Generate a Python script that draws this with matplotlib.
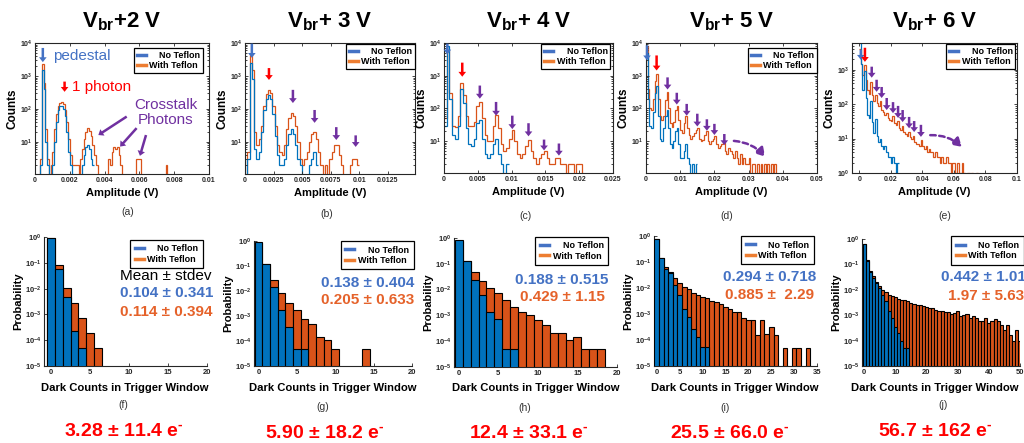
#!/usr/bin/env python
"""Dark count spectra with and without Teflon, Vbr+2 V to Vbr+6 V."""

import numpy as np
import matplotlib
matplotlib.use('Agg')
import matplotlib.pyplot as plt
from matplotlib.lines import Line2D
from matplotlib.ticker import (FuncFormatter, LogLocator, MultipleLocator,
                               NullFormatter, NullLocator)

# overvoltage of each column
overvoltages = ['+2 V', '+ 3 V', '+ 4 V', '+ 5 V', '+ 6 V']
panel_letters = ['a', 'b', 'c', 'd', 'e', 'f', 'g', 'h', 'i', 'j']

# amplitude histograms (counts per bin, first bin starts at 0 V)
amp_bins = [0.0001, 0.0002, 0.0004, 0.0005, 0.001]
a_bare = [0, 0, 0, 2, 1500, 400, 10, 2, 0, 0,
          2, 10, 40, 90, 120, 120, 100, 60, 20, 5,
          2, 0, 0, 0, 0, 0, 0, 2, 4, 7,
          8, 6, 3, 2]
a_with = [0, 0, 0, 3, 2300, 600, 25, 3, 0, 2,
          5, 25, 70, 120, 150, 160, 140, 90, 40, 12,
          4, 2, 2, 2, 2, 0, 3, 6, 12, 20,
          26, 22, 15, 8, 4, 2, 0, 0, 0, 0,
          0, 0, 3, 2, 5, 7, 6, 7, 4, 2,
          0, 0, 0, 0, 0, 0, 0, 0, 3, 3,
          3, 0, 0, 0, 0, 0, 0, 0, 0, 0,
          0, 0, 0, 0, 0, 2, 0]
b_bare = [0, 3, 2500, 800, 6, 3, 5, 20, 90, 200,
          260, 200, 70, 15, 4, 2, 2, 3, 8, 18,
          25, 18, 8, 3, 2, 0, 0, 0, 2, 3,
          5, 2]
b_with = [0, 5, 4300, 1500, 20, 8, 12, 30, 120, 280,
          380, 300, 120, 30, 8, 5, 4, 8, 25, 55,
          75, 60, 30, 10, 3, 2, 3, 5, 10, 18,
          20, 12, 5, 2, 0, 2, 0, 3, 5, 8,
          8, 4, 2, 0, 0, 0, 2, 3, 3, 2]
c_bare = [30, 8000, 200, 15, 12, 30, 380, 150, 25, 8,
          7, 12, 35, 45, 12, 4, 3, 4, 8, 12,
          4, 2, 1, 2]
c_with = [50, 6000, 300, 30, 28, 60, 600, 250, 60, 30,
          29, 40, 120, 160, 50, 15, 10, 10, 30, 63,
          25, 8, 5, 6, 12, 22, 10, 4, 3, 4,
          7, 11, 5, 3, 2, 3, 4, 5, 3, 2,
          2, 3, 3, 2, 2, 1, 2, 2, 1, 2,
          2, 1]
d_bare = [5000, 200, 30, 25, 80, 300, 490, 60, 12, 10,
          25, 60, 90, 25, 8, 6, 10, 20, 25, 8,
          3, 3, 5, 8, 3, 2, 1, 2, 1, 2]
d_with = [8000, 400, 100, 90, 200, 700, 1100, 200, 60, 45,
          60, 180, 320, 100, 35, 28, 40, 90, 120, 45,
          22, 18, 35, 57, 25, 15, 12, 14, 18, 22,
          25, 12, 10, 11, 16, 20, 10, 8, 10, 12,
          14, 8, 6, 7, 8, 9, 5, 4, 6, 5,
          4, 3, 5, 3, 2, 4, 2, 3, 2, 2,
          3, 1, 2, 2, 1, 2, 1, 2, 1, 2,
          1, 2, 1, 2, 1, 2, 1]
e_bare = [6000, 1500, 250, 900, 150, 50, 40, 125, 30, 15,
          36, 12, 8, 10, 6, 5, 6, 4, 3, 3,
          2, 3, 2, 1, 2]
e_with = [4000, 1500, 700, 1400, 500, 250, 200, 450, 180, 120,
          180, 110, 90, 120, 70, 60, 50, 55, 40, 35,
          32, 45, 28, 25, 32, 20, 18, 24, 16, 14,
          12, 16, 11, 10, 12, 8, 7, 7, 6, 9,
          6, 5, 6, 4, 5, 4, 4, 3, 4, 3,
          3, 2, 3, 2, 2, 3, 2, 2, 1, 2,
          2, 1, 2, 1, 1, 2, 1, 0, 1, 1,
          0, 1, 0, 0, 1]

# dark count probability per number of counts in the trigger window
f_bare = [0.9, 0.06, 0.0046, 2.3e-4, 5e-5]
f_with = [0.9, 0.08, 0.0102, 0.0028, 7e-4, 1.9e-4, 5e-5]
g_bare = [0.88, 0.117, 0.0145, 0.0018, 3.6e-4, 5e-5, 5e-5]
g_with = [0.85, 0.12, 0.027, 0.0083, 0.0033, 0.0017, 7.4e-4, 4.7e-4,
          1.45e-4, 1.07e-4, 5e-5, 0, 0, 0, 5e-5]
h_bare = [0.85, 0.134, 0.024, 0.006, 0.0014, 7.2e-4, 5.2e-5, 5.2e-5]
h_with = [0.8, 0.134, 0.05, 0.022, 0.0112, 0.0072, 0.004, 0.0022, 0.0014,
          0.00104, 6.6e-4, 4.3e-4, 2e-4, 2e-4, 1.1e-4, 1.5e-4, 5e-5, 5e-5,
          5e-5]
i_bare = [0.8, 0.145, 0.056, 0.038, 0.013, 0.0053, 0.0016, 7.9e-4, 2.7e-4,
          1.3e-4, 5.2e-5, 5.2e-5]
i_with = [0.8, 0.145, 0.065, 0.04, 0.025, 0.016, 0.011, 0.009, 0.0065,
          0.0055, 0.0045, 0.004, 0.0033, 0.0028, 0.0024, 0.0019, 0.0016,
          0.0012, 0.0012, 7e-4, 6e-4, 6e-4, 1.5e-4, 6e-4, 1.7e-4, 3.3e-4,
          1.5e-4, 0, 5e-5, 0, 5e-5, 5e-5, 0, 5e-5]
j_bare = [0.65, 0.14, 0.052, 0.03, 0.018, 0.012, 0.0065, 0.0035, 0.0015,
          8e-4, 3.5e-4, 2e-4, 1e-4, 5e-5, 5e-5]
j_with = [0.65, 0.15, 0.055, 0.035, 0.02, 0.014, 0.01, 0.008, 0.0065,
          0.0055, 0.005, 0.0045, 0.004, 0.0038, 0.0035, 0.003, 0.0028,
          0.0025, 0.0025, 0.0023, 0.0022, 0.002, 0.0019, 0.0016, 0.0015,
          0.0014, 0.0013, 0.0013, 0.0011, 0.0012, 0.0015, 9e-4, 0.001,
          0.0011, 8e-4, 9e-4, 8e-4, 6e-4, 6e-4, 8e-4, 5e-4, 6e-4, 7e-4,
          6e-4, 4e-4, 2.5e-4, 4e-4, 1.7e-4, 1e-4, 2.5e-4, 1e-4]

# mean and stdev of dark counts, and resulting noise in electrons
bare_stats = ['0.104 ± 0.341', '0.138 ± 0.404', '0.188 ± 0.515',
              '0.294 ± 0.718', '0.442 ± 1.01']
with_stats = ['0.114 ± 0.394', '0.205 ± 0.633', '0.429 ± 1.15',
              '0.885 ±  2.29', '1.97 ± 5.63']
noise_e = ['3.28 ± 11.4', '5.90 ± 18.2', '12.4 ± 33.1', '25.5 ± 66.0',
           '56.7 ± 162']

# peak markers (x, log10 tail, log10 tip): pedestal, 1 photon, crosstalk
peak_arrows = [
    [(0.00045, 3.85, 3.42), (0.0017, 2.83, 2.52)],
    [(0.0006, 3.98, 3.55), (0.0021, 3.24, 2.88), (0.0042, 2.58, 2.18),
     (0.0061, 1.97, 1.58), (0.0080, 1.45, 1.06), (0.0097, 1.2, 0.85)],
    [(0.0005, 3.98, 3.65), (0.0027, 3.4, 2.97), (0.0053, 2.7, 2.3),
     (0.0077, 2.2, 1.78), (0.0101, 1.78, 1.37), (0.0125, 1.55, 1.15),
     (0.0148, 1.05, 0.72), (0.0170, 0.93, 0.56)],
    [(0.0003, 3.93, 3.47), (0.0031, 3.62, 3.16), (0.0063, 2.95, 2.58),
     (0.009, 2.48, 2.12), (0.0119, 2.14, 1.78), (0.015, 1.84, 1.45),
     (0.0178, 1.67, 1.32), (0.02, 1.53, 1.19), (0.0229, 1.22, 0.88)],
    [(0.001, 3.58, 3.29), (0.0036, 3.64, 3.23), (0.0079, 3.09, 2.77),
     (0.011, 2.71, 2.36), (0.0142, 2.5, 2.18), (0.0174, 2.18, 1.83),
     (0.0214, 2.06, 1.74), (0.0246, 1.95, 1.6), (0.0275, 1.83, 1.48),
     (0.0316, 1.63, 1.3), (0.0348, 1.51, 1.19), (0.0391, 1.4, 1.05)]]
crosstalk_arrows = [(0.00527, 1.77, 0.00364, 1.21),
                    (0.00584, 1.42, 0.00489, 0.86),
                    (0.00638, 1.21, 0.00603, 0.58)]
tail_arrows = {3: (0.0257, 1.01, 0.0348, 0.53), 4: (0.045, 1.1, 0.065, 0.76)}

# colours
BLUE, ORANGE = '#0072BD', '#D95319'
LBLUE, LORANGE = '#4472C4', '#ED7D31'
RED, PURPLE, TORANGE = '#FF0000', '#7030A0', '#E5622A'
INK = '#262626'

W, H = 1024, 443


def box(l, r, t, b):
    """Axes rectangle from pixel edges."""
    return [l/W, 1-b/H, (r-l)/W, (b-t)/H]


def arrow(ax, x0, e0, x1, e1, color, dashed=False):
    """Block arrow between two points given as x and log10(y)."""
    if dashed:
        props = dict(arrowstyle='-|>,head_length=0.5,head_width=0.3',
                     color=color, lw=1.8, linestyle=(0, (2.2, 1.4)),
                     connectionstyle='arc3,rad=-0.2', shrinkA=0, shrinkB=0)
    else:
        props = dict(facecolor=color, edgecolor='none', width=1.8,
                     headwidth=5.5, headlength=3.5, shrink=0)
    ax.annotate('', xy=(x1, 10**e1), xytext=(x0, 10**e0), arrowprops=props)


def legend(ax, anchor, fontsize, pad):
    handles = [Line2D([], [], color=LBLUE, lw=2.5),
               Line2D([], [], color=LORANGE, lw=2.5)]
    leg = ax.legend(handles, ['    No Teflon', 'With Teflon'],
                    loc='upper right', bbox_to_anchor=anchor,
                    borderaxespad=0, fontsize=fontsize, handlelength=1.0,
                    handletextpad=0.4, labelspacing=0.15, borderpad=pad,
                    fancybox=False, framealpha=1)
    leg.get_frame().set_edgecolor('k')
    leg.get_frame().set_linewidth(0.9)
    for t in leg.get_texts():
        t.set_fontweight('bold')


def main():
    plt.rcParams['font.family'] = ['Liberation Sans', 'DejaVu Sans']
    plt.rcParams['font.weight'] = 'bold'
    plt.rcParams['axes.labelweight'] = 'bold'
    plt.rcParams['mathtext.fontset'] = 'custom'
    plt.rcParams['mathtext.rm'] = 'Liberation Sans'
    plt.rcParams['mathtext.bf'] = 'Liberation Sans:bold'
    plt.rcParams['mathtext.it'] = 'Liberation Sans:italic'

    fig = plt.figure(figsize=(W/100, H/100), dpi=100)

    # top row, amplitude spectra
    top_boxes = [(35, 209, 43, 174), (245, 415, 43, 174),
                 (444, 613, 43, 173), (646, 817, 43, 173),
                 (852, 1017, 43, 173)]
    top_xlims = [(0, 0.01), (0, 0.0149), (0, 0.025), (0, 0.05),
                 (-0.0046, 0.1)]
    top_xsteps = [0.002, 0.0025, 0.005, 0.01, 0.02]
    top_ylims = [(1.07, 1e4)]*4 + [(1, 6000)]
    top_anchors = [(0.966, 0.962), (1.0, 0.99), (0.985, 0.99), (1.0, 0.96),
                   (0.99, 0.99)]
    amp_bare = [a_bare, b_bare, c_bare, d_bare, e_bare]
    amp_with = [a_with, b_with, c_with, d_with, e_with]
    sub_top = [(128, 212), (327, 214), (526, 216), (727, 216), (945, 216)]

    for i in range(5):
        ax = fig.add_axes(box(*top_boxes[i]))
        ax.set_yscale('log', nonpositive='clip')
        for counts, color in [(amp_with[i], ORANGE), (amp_bare[i], BLUE)]:
            edges = np.arange(len(counts)+1)*amp_bins[i]
            ax.stairs(counts, edges, color=color, lw=0.9, baseline=None)
        ax.set_xlim(*top_xlims[i])
        ax.set_ylim(*top_ylims[i])
        ax.xaxis.set_major_locator(MultipleLocator(top_xsteps[i]))
        ax.xaxis.set_major_formatter(FuncFormatter(lambda v, p: '%g' % v))
        ax.xaxis.set_minor_locator(NullLocator())
        ax.yaxis.set_major_locator(LogLocator(base=10))
        ax.yaxis.set_minor_locator(LogLocator(base=10, subs=np.arange(2, 10)))
        ax.yaxis.set_minor_formatter(NullFormatter())
        ax.tick_params(which='both', direction='in', top=True, right=True,
                       labelsize=5, colors=INK, width=0.6, pad=2)
        ax.tick_params(which='major', length=2.5)
        ax.tick_params(which='minor', length=1.5)
        for s in ax.spines.values():
            s.set_linewidth(0.8)
            s.set_color(INK)
        ax.set_xlabel('Amplitude (V)', fontsize=8, labelpad=3)
        ax.set_ylabel('Counts', fontsize=8.5, labelpad=1)
        legend(ax, top_anchors[i], 6.5, 0.3)

        # peak markers
        for k, (x, e0, e1) in enumerate(peak_arrows[i]):
            color = LBLUE if k == 0 else RED if k == 1 else PURPLE
            arrow(ax, x, e0, x, e1, color)
        if i in tail_arrows:
            arrow(ax, *tail_arrows[i], PURPLE, dashed=True)

        l, r, t, b = top_boxes[i]
        fig.text((l+r)/2/W, 1-22/H, r'$\mathbf{V_{br}}$' + overvoltages[i],
                 ha='center', va='center', fontsize=16, fontweight='bold')
        fig.text(sub_top[i][0]/W, 1-sub_top[i][1]/H,
                 '(%s)' % panel_letters[i], ha='center', va='center',
                 fontsize=7.5, fontweight='normal', color='#333333')

        if i == 0:
            ax.text(0.00105, 10**3.62, 'pedestal', color=LBLUE, fontsize=11,
                    fontweight='normal', va='center')
            ax.text(0.00215, 10**2.68, '1 photon', color=RED, fontsize=11,
                    fontweight='normal', va='center')
            ax.text(0.0075, 10**1.9, 'Crosstalk\nPhotons', color=PURPLE,
                    fontsize=11, fontweight='normal', ha='center',
                    va='center', linespacing=1.05)
            for x0, e0, x1, e1 in crosstalk_arrows:
                arrow(ax, x0, e0, x1, e1, PURPLE)

    # bottom row, dark counts in the trigger window
    bot_boxes = [(44, 207, 237, 366), (254, 412, 241, 366),
                 (454, 617, 238, 367), (654, 817, 236, 366),
                 (862, 1020, 239, 366)]
    bot_xlims = [(-0.9, 20), (-0.6, 20), (-0.6, 20), (-0.6, 35), (-0.7, 50)]
    bot_xsteps = [5, 5, 5, 5, 10]
    bot_anchors = [(0.975, 0.977), (1.01, 1.0), (0.945, 1.01), (0.98, 1.0),
                   (1.025, 1.02)]
    dc_bare = [f_bare, g_bare, h_bare, i_bare, j_bare]
    dc_with = [f_with, g_with, h_with, i_with, j_with]
    stat_pos = [(120, 293, 120, 312), (321, 283, 321, 300),
                (515, 280, 520, 297), (723, 277, 725, 295),
                (941, 277, 948, 296)]
    sub_bot = [(123, 405), (323, 407), (525, 408), (725, 408), (943, 405)]
    noise_pos = [(124, 431), (325, 433), (529, 433), (730, 433), (935, 431)]
    xlabel_x = [125, 333, 536, 735, 935]

    for i in range(5):
        ax = fig.add_axes(box(*bot_boxes[i]))
        ax.set_yscale('log', nonpositive='clip')
        for vals, color, z in [(dc_with[i], ORANGE, 2), (dc_bare[i], BLUE, 3)]:
            ax.bar(np.arange(len(vals)), vals, width=1, color=color,
                   edgecolor='k', linewidth=0.8, zorder=z)
        ax.set_xlim(*bot_xlims[i])
        ax.set_ylim(1e-5, 1)
        ax.xaxis.set_major_locator(MultipleLocator(bot_xsteps[i]))
        ax.yaxis.set_major_locator(LogLocator(base=10))
        ax.yaxis.set_minor_locator(NullLocator())
        ax.tick_params(which='both', direction='in', labelsize=5.5,
                       colors=INK, width=0.6, length=2.5, pad=2)
        ax.spines[['top', 'right']].set_visible(False)
        for s in ax.spines.values():
            s.set_linewidth(0.8)
            s.set_color(INK)
        ax.set_xlabel('Dark Counts in Trigger Window', fontsize=8.1)
        l, r, t, b = bot_boxes[i]
        ax.xaxis.set_label_coords((xlabel_x[i]-l)/(r-l), -(388-b)/(b-t),
                                  transform=ax.transAxes)
        ax.xaxis.label.set_va('center')
        ax.set_ylabel('Probability', fontsize=8, labelpad=1)
        legend(ax, bot_anchors[i], 6.5, 0.5)

        xb, yb, xw, yw = stat_pos[i]
        if i == 0:
            fig.text(120/W, 1-276/H, 'Mean ± stdev', fontsize=11,
                     fontweight='normal', va='center')
        fig.text(xb/W, 1-yb/H, bare_stats[i], color=LBLUE, fontsize=11,
                 fontweight='bold', va='center')
        fig.text(xw/W, 1-yw/H, with_stats[i], color=TORANGE, fontsize=11,
                 fontweight='bold', va='center')
        fig.text(sub_bot[i][0]/W, 1-sub_bot[i][1]/H,
                 '(%s)' % panel_letters[i+5], ha='center', va='center',
                 fontsize=7.5, fontweight='normal', color='#333333')
        fig.text(noise_pos[i][0]/W, 1-noise_pos[i][1]/H,
                 noise_e[i] + r' e$^{\text{-}}$', ha='center', va='center',
                 fontsize=14, fontweight='bold', color=RED)

    fig.savefig('out.png', dpi=100)


if __name__ == '__main__':
    main()
